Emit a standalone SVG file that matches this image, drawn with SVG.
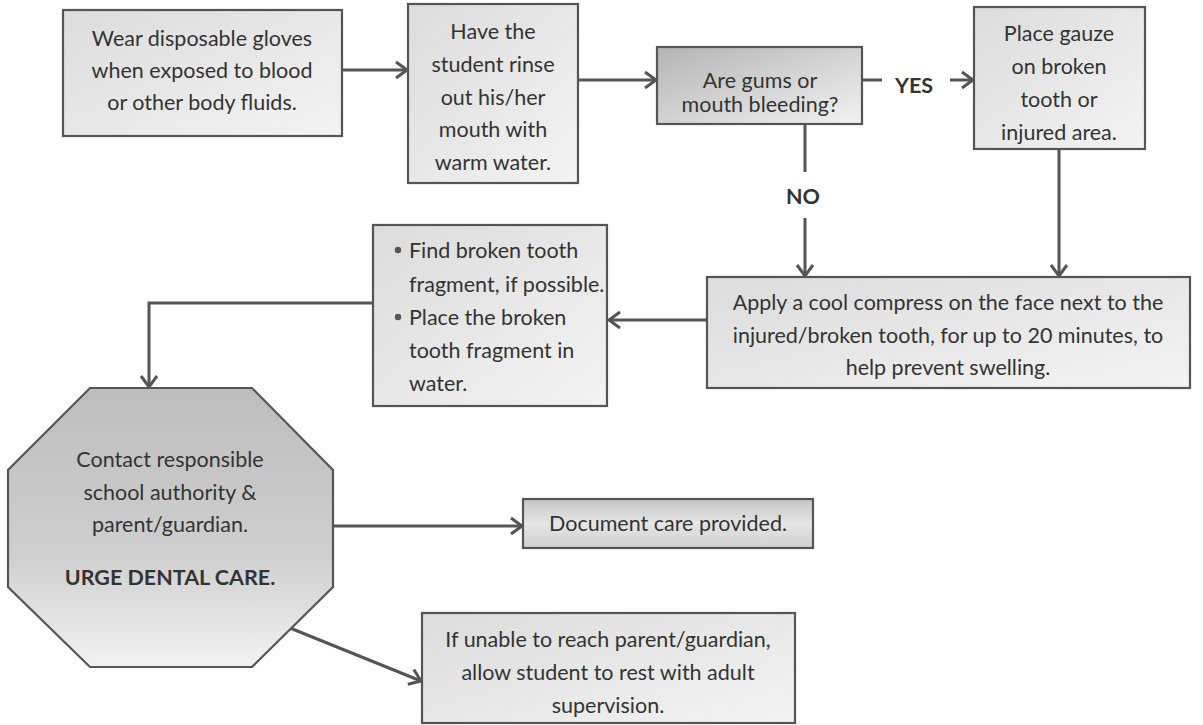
<svg xmlns="http://www.w3.org/2000/svg" width="1203" height="725" viewBox="0 0 1203 725">
<defs>
<linearGradient id="gLight" x1="0" y1="0" x2="1" y2="1">
<stop offset="0" stop-color="#dcdcdc"/><stop offset="1" stop-color="#f3f3f3"/>
</linearGradient>
<linearGradient id="gDark" x1="0" y1="0" x2="1" y2="1">
<stop offset="0" stop-color="#b4b4b4"/><stop offset="1" stop-color="#f2f2f2"/>
</linearGradient>
<linearGradient id="gOct" x1="0" y1="0" x2="0" y2="1">
<stop offset="0" stop-color="#bdbdbd"/><stop offset="0.6" stop-color="#cfcfcf"/><stop offset="1" stop-color="#f2f2f2"/>
</linearGradient>
<linearGradient id="gDoc" x1="0" y1="0" x2="0" y2="1">
<stop offset="0" stop-color="#c4c4c4"/><stop offset="0.5" stop-color="#e6e6e6"/><stop offset="1" stop-color="#d0d0d0"/>
</linearGradient>
<marker id="arr" markerUnits="userSpaceOnUse" markerWidth="16" markerHeight="20" refX="12" refY="10" orient="auto">
<path d="M1,2 L12,10 L1,18" fill="none" stroke="#555" stroke-width="3"/>
</marker>
<style>
.box{stroke:#555;stroke-width:2.2;}
.t{font-family:Lato,"Open Sans","Liberation Sans",sans-serif;font-size:21.5px;fill:#333;text-anchor:middle;dominant-baseline:central;}
.tl{text-anchor:start;}
.b{font-weight:bold;}
.c{fill:none;stroke:#555;stroke-width:3;}
</style>
</defs>

<g id="connectors">
<line class="c" x1="342" y1="70" x2="407" y2="70" marker-end="url(#arr)"/>
<line class="c" x1="578" y1="80" x2="656" y2="80" marker-end="url(#arr)"/>
<line class="c" x1="863" y1="80" x2="882" y2="80"/>
<line class="c" x1="950" y1="80" x2="973" y2="80" marker-end="url(#arr)"/>
<line class="c" x1="805" y1="124" x2="805" y2="172"/>
<line class="c" x1="805" y1="218" x2="805" y2="276" marker-end="url(#arr)"/>
<line class="c" x1="1059" y1="149" x2="1059" y2="276" marker-end="url(#arr)"/>
<line class="c" x1="706" y1="320" x2="609" y2="320" marker-end="url(#arr)"/>
<polyline class="c" points="373,303 149,303 149,387" marker-end="url(#arr)"/>
<line class="c" x1="333" y1="526" x2="522" y2="526" marker-end="url(#arr)"/>
<line class="c" x1="290" y1="628" x2="421" y2="681" marker-end="url(#arr)"/>
</g>

<g id="yes-label"><text class="t b" x="914" y="85">YES</text></g>
<g id="no-label"><text class="t b" x="803" y="196">NO</text></g>

<g id="gloves">
<rect class="box" x="63" y="10" width="279" height="126" fill="url(#gLight)"/>
<text class="t" x="202" y="38">Wear disposable gloves</text>
<text class="t" x="202" y="70">when exposed to blood</text>
<text class="t" x="202" y="102">or other body fluids.</text>
</g>

<g id="rinse">
<rect class="box" x="408" y="4" width="170" height="179" fill="url(#gLight)"/>
<text class="t" x="493" y="31">Have the</text>
<text class="t" x="493" y="64">student rinse</text>
<text class="t" x="493" y="97">out his/her</text>
<text class="t" x="493" y="129">mouth with</text>
<text class="t" x="493" y="162">warm water.</text>
</g>

<g id="decision">
<rect class="box" x="657" y="47" width="205" height="77" fill="url(#gDark)"/>
<text class="t" x="760" y="80">Are gums or</text>
<text class="t" x="760" y="104">mouth bleeding?</text>
</g>

<g id="gauze">
<rect class="box" x="974" y="7" width="171" height="142" fill="url(#gLight)"/>
<text class="t" x="1059" y="33">Place gauze</text>
<text class="t" x="1059" y="66">on broken</text>
<text class="t" x="1059" y="99">tooth or</text>
<text class="t" x="1059" y="132">injured area.</text>
</g>

<g id="compress">
<rect class="box" x="707" y="277" width="483" height="111" fill="url(#gLight)"/>
<text class="t" x="948" y="302">Apply a cool compress on the face next to the</text>
<text class="t" x="948" y="335">injured/broken tooth, for up to 20 minutes, to</text>
<text class="t" x="948" y="367">help prevent swelling.</text>
</g>

<g id="fragment">
<rect class="box" x="373" y="225" width="234" height="181" fill="url(#gLight)"/>
<circle cx="398" cy="250" r="3.2" fill="#555"/>
<circle cx="398" cy="317" r="3.2" fill="#555"/>
<text class="t tl" x="409" y="250">Find broken tooth</text>
<text class="t tl" x="409" y="284">fragment, if possible.</text>
<text class="t tl" x="409" y="317">Place the broken</text>
<text class="t tl" x="409" y="350">tooth fragment in</text>
<text class="t tl" x="409" y="383">water.</text>
</g>

<g id="contact">
<polygon class="box" points="90,388 252,388 333,470 333,587 252,667 90,667 8,587 8,470" fill="url(#gOct)"/>
<text class="t" x="170" y="459">Contact responsible</text>
<text class="t" x="170" y="492">school authority &amp;</text>
<text class="t" x="170" y="524">parent/guardian.</text>
<text class="t b" x="170" y="577">URGE DENTAL CARE.</text>
</g>

<g id="document">
<rect class="box" x="523" y="499" width="290" height="49" fill="url(#gDoc)"/>
<text class="t" x="668" y="523">Document care provided.</text>
</g>

<g id="rest">
<rect class="box" x="422" y="613" width="373" height="110" fill="url(#gLight)"/>
<text class="t" x="608" y="639">If unable to reach parent/guardian,</text>
<text class="t" x="608" y="672">allow student to rest with adult</text>
<text class="t" x="608" y="705">supervision.</text>
</g>
</svg>
